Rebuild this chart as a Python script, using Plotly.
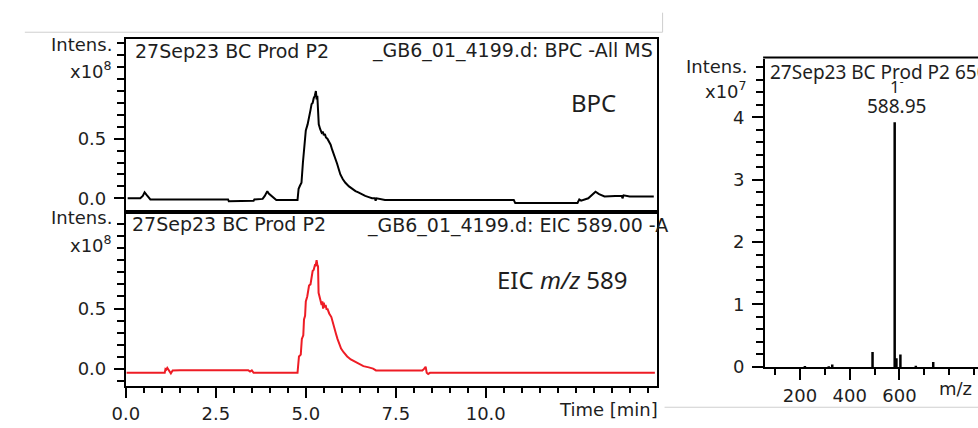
import plotly.graph_objects as go

# ---------------- data ----------------
# Base peak chromatogram (BPC), intensity x1e8
bpc_time = [0.05, 0.40, 0.47, 0.52, 0.57, 0.62, 0.68, 0.75, 1.20, 2.00, 2.84, 2.86, 3.20, 3.55, 3.57,
            3.80, 3.86, 3.93, 3.97, 4.04, 4.12, 4.18, 4.77, 4.80, 4.84, 4.88, 4.92, 4.95, 5.00, 5.05,
            5.09, 5.13, 5.16, 5.19, 5.22, 5.25, 5.28, 5.30, 5.32, 5.34, 5.36, 5.40, 5.44, 5.47, 5.50,
            5.53, 5.56, 5.60, 5.65, 5.69, 5.73, 5.77, 5.82, 5.87, 5.92, 5.96, 6.03, 6.10, 6.20, 6.29,
            6.38, 6.46, 6.55, 6.65, 6.75, 6.84, 6.92, 6.94, 6.97, 7.20, 9.00, 10.78, 10.82, 12.55, 12.60,
            12.65, 12.85, 12.95, 13.05, 13.15, 13.30, 13.60, 13.78, 13.80, 13.83, 14.00, 14.67]
bpc_int = [0.00, 0.00, 0.02, 0.05, 0.03, 0.01, -0.01, -0.01, -0.01, -0.01, -0.01, -0.025, -0.02, -0.02, -0.01,
           -0.005, 0.02, 0.06, 0.04, 0.02, 0.00, -0.015, -0.015, 0.08, 0.107, 0.13, 0.30, 0.42, 0.57, 0.62,
           0.70, 0.74, 0.79, 0.80, 0.84, 0.86, 0.90, 0.83, 0.86, 0.70, 0.62, 0.58, 0.55, 0.56, 0.53,
           0.54, 0.51, 0.50, 0.47, 0.45, 0.41, 0.38, 0.33, 0.29, 0.24, 0.20, 0.16, 0.13, 0.10, 0.08,
           0.06, 0.05, 0.035, 0.02, 0.01, 0.00, 0.00, -0.02, 0.00, -0.015, -0.015, -0.015, -0.04, -0.04, -0.01,
           -0.02, 0.00, 0.03, 0.055, 0.035, 0.015, 0.02, 0.02, 0.00, 0.025, 0.015, 0.015]

# Extracted ion chromatogram (EIC m/z 589), intensity x1e8
eic_time = [0.02, 1.08, 1.10, 1.12, 1.15, 1.20, 1.25, 1.30, 1.50, 3.40, 3.45, 3.50, 3.55, 4.77, 4.80,
            4.81, 4.86, 4.89, 4.93, 4.95, 4.98, 5.00, 5.04, 5.07, 5.09, 5.13, 5.16, 5.19, 5.22, 5.25,
            5.27, 5.30, 5.32, 5.34, 5.355, 5.38, 5.41, 5.44, 5.46, 5.48, 5.50, 5.52, 5.55, 5.58, 5.60,
            5.65, 5.71, 5.75, 5.80, 5.84, 5.88, 5.93, 5.98, 6.05, 6.15, 6.25, 6.37, 6.48, 6.60, 6.75,
            6.87, 6.95, 8.24, 8.28, 8.33, 8.36, 8.40, 8.45, 14.70]
eic_int = [-0.03, -0.03, 0.00, -0.005, 0.01, -0.01, -0.035, -0.01, -0.008, -0.008, -0.02, -0.01, -0.03, -0.03, 0.06,
           0.105, 0.12, 0.25, 0.28, 0.41, 0.44, 0.56, 0.60, 0.65, 0.69, 0.70, 0.76, 0.81, 0.82, 0.855,
           0.85, 0.90, 0.86, 0.85, 0.63, 0.60, 0.58, 0.53, 0.56, 0.50, 0.55, 0.51, 0.53, 0.49, 0.50,
           0.46, 0.43, 0.38, 0.33, 0.29, 0.25, 0.21, 0.17, 0.14, 0.105, 0.08, 0.06, 0.04, 0.025, 0.015,
           0.005, -0.01, -0.01, 0.00, 0.02, -0.03, -0.04, -0.03, -0.03]

# Mass spectrum, intensity x1e7
ms_mz = [220, 316, 330, 492, 581, 588, 604, 666, 736]
ms_int = [0.016, 0.012, 0.04, 0.24, 3.92, 0.14, 0.20, 0.02, 0.08]

chrom_ticks = [0.0, 2.5, 5.0, 7.5, 10.0]
chrom_ticktext = ["0.0", "2.5", "5.0", "7.5", "10.0"]
int_ticks = [0.0, 0.5]
int_ticktext = ["0.0", "0.5"]
ms_ticks = [200, 400, 600]
ms_ticktext = ["200", "400", "600"]
ms_int_ticks = [0, 1, 2, 3, 4]

# ---------------- layout helpers (pixel -> paper) ----------------
W, H = 978, 428
def PX(x):
    return x / W
def PY(y):
    return 1 - y / H

TICKFONT = dict(family="DejaVu Sans", size=18, color="#1e1e1e")
LBLFONT = dict(family="DejaVu Sans", size=18, color="#1e1e1e")
TITLEFONT = dict(family="DejaVu Sans", size=19, color="#1e1e1e")
CALFONT = dict(family="Noto Sans", size=24, color="#1e1e1e")

fig = go.Figure()

fig.add_trace(go.Scatter(x=bpc_time, y=bpc_int, mode="lines", xaxis="x", yaxis="y",
                         line=dict(color="black", width=2), hoverinfo="skip"))
fig.add_trace(go.Scatter(x=eic_time, y=eic_int, mode="lines", xaxis="x2", yaxis="y2",
                         line=dict(color="#ee1c25", width=2), hoverinfo="skip"))

ms_x, ms_y = [], []
for m, h in zip(ms_mz, ms_int):
    ms_x += [m, m, None]
    ms_y += [0, h, None]
fig.add_trace(go.Scatter(x=ms_x, y=ms_y, mode="lines", xaxis="x3", yaxis="y3",
                         line=dict(color="black", width=2.5), hoverinfo="skip"))

axis_common = dict(showgrid=False, zeroline=False, showline=True, linecolor="black", linewidth=2)
major = dict(ticks="outside", tickwidth=2, tickcolor="black", tickfont=TICKFONT)

XL, XR = 113.5, 652
layout = dict(
    width=W, height=H, margin=dict(l=0, r=0, t=0, b=0),
    paper_bgcolor="white", plot_bgcolor="white", showlegend=False,
    xaxis=dict(axis_common, domain=[PX(XL), PX(XR)], range=[0, 14.75], mirror=True,
               showticklabels=False, ticks="", anchor="y"),
    yaxis=dict(axis_common, **major, domain=[PY(215), PY(40)], range=[-0.098, 1.336], mirror=True,
               tickvals=int_ticks, ticktext=int_ticktext, ticklen=10, ticklabelstandoff=4,
               minor=dict(dtick=0.1, tick0=0, ticks="outside", ticklen=7, tickwidth=2, tickcolor="black"),
               anchor="x"),
    xaxis2=dict(axis_common, **major, domain=[PX(XL), PX(XR)], range=[0, 14.75], mirror=True,
                tickvals=chrom_ticks, ticktext=chrom_ticktext, ticklen=10, ticklabelstandoff=1,
                minor=dict(dtick=0.5, tick0=0, ticks="outside", ticklen=5, tickwidth=2, tickcolor="black"),
                anchor="y2"),
    yaxis2=dict(axis_common, **major, domain=[PY(395), PY(219)], range=[-0.137, 1.282], mirror=True,
                tickvals=int_ticks, ticktext=int_ticktext, ticklen=10, ticklabelstandoff=4,
                minor=dict(dtick=0.1, tick0=0, ticks="outside", ticklen=7, tickwidth=2, tickcolor="black"),
                anchor="x2"),
    xaxis3=dict(axis_common, **major, domain=[PX(762), 1.0], range=[60, 916],
                tickvals=ms_ticks, ticktext=ms_ticktext, ticklen=11, ticklabelstandoff=0,
                minor=dict(dtick=100, tick0=0, ticks="outside", ticklen=6, tickwidth=2, tickcolor="black"),
                anchor="y3"),
    yaxis3=dict(axis_common, **major, domain=[PY(376), PY(60)], range=[-0.005, 4.94],
                tickvals=ms_int_ticks, ticklen=11, ticklabelstandoff=4,
                minor=dict(dtick=0.2, tick0=0, ticks="outside", ticklen=7, tickwidth=2, tickcolor="black"),
                anchor="x3"),
)

shapes = [
    # spectrum top border
    dict(type="line", xref="paper", yref="paper", x0=PX(760), x1=1.0, y0=PY(59), y1=PY(59),
         line=dict(color="black", width=2)),
    # light gray slide guide lines
    dict(type="line", xref="paper", yref="paper", x0=PX(11), x1=PX(658), y0=PY(33), y1=PY(33),
         line=dict(color="#cfcfcf", width=1)),
    dict(type="line", xref="paper", yref="paper", x0=PX(658), x1=PX(658), y0=PY(13), y1=PY(33),
         line=dict(color="#cfcfcf", width=1)),
    dict(type="line", xref="paper", yref="paper", x0=PX(660), x1=1.0, y0=PY(417), y1=PY(417),
         line=dict(color="#cfcfcf", width=1)),
]
layout["shapes"] = shapes

def ann(text, x, y, xanchor="left", font=LBLFONT):
    return dict(text=text, x=PX(x), y=PY(y), xref="paper", yref="paper", showarrow=False,
                xanchor=xanchor, yanchor="middle", font=font)

annotations = [
    ann("Intens.", 101, 46, "right"),
    ann("x10<sup>8</sup>", 101, 72, "right"),
    ann("27Sep23 BC Prod P2", 121, 52, "left", TITLEFONT),
    ann("_GB6_01_4199.d: BPC -All MS", 650, 52, "right", TITLEFONT),
    ann("BPC", 588, 105, "center", CALFONT),
    ann("Intens.", 101, 223, "right"),
    ann("x10<sup>8</sup>", 101, 250, "right"),
    ann("27Sep23 BC Prod P2", 118, 229, "left", TITLEFONT),
    ann("_GB6_01_4199.d: EIC 589.00 -A", 356, 231, "left", TITLEFONT),
    ann("EIC <i>m/z</i> 589", 556, 286, "center", CALFONT),
    ann("Time [min]", 603, 419, "center", TICKFONT),
    ann("Intens.", 746, 68, "right"),
    ann("x10<sup>7</sup>", 746, 92, "right"),
    ann("27Sep23 BC Prod P2 650", 765, 74, "left", dict(family="Noto Sans", size=19, color="#1e1e1e")),
    ann("1<sup>-</sup>", 896, 88, "center", dict(family="Noto Sans", size=17, color="#1e1e1e")),
    ann("588.95", 895, 109, "center", dict(family="Noto Sans", size=19, color="#1e1e1e")),
    ann("m/z", 955, 398, "center", TICKFONT),
]
layout["annotations"] = annotations

fig.update_layout(**layout)
fig.write_html("out.html", config={"displayModeBar": False})
